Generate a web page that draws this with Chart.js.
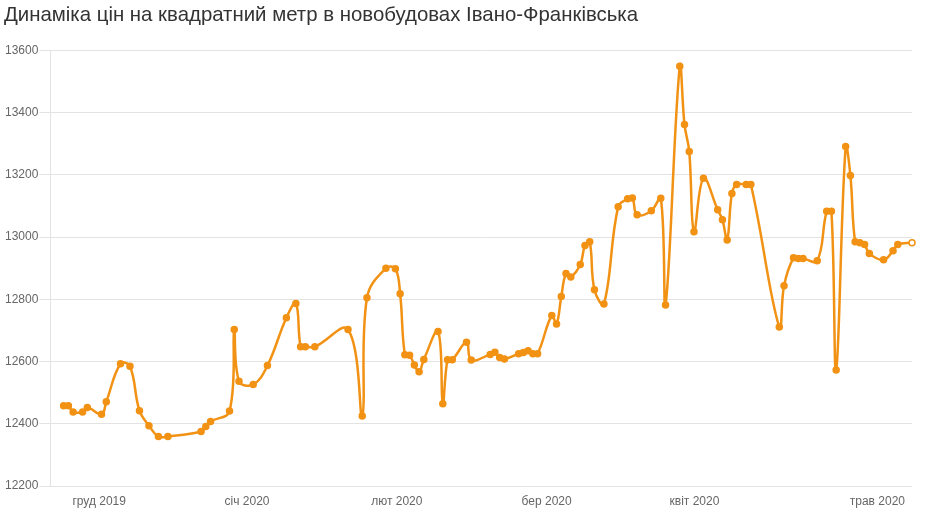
<!DOCTYPE html>
<html>
<head>
<meta charset="utf-8">
<script src="https://cdn.jsdelivr.net/npm/chart.js@4.4.0/dist/chart.umd.min.js"></script>
<style>
  html, body { margin: 0; padding: 0; background: #fff; }
  #wrap { width: 943px; height: 514px; }
</style>
</head>
<body>
<div id="wrap"><canvas id="c" width="943" height="514"></canvas></div>
<script>
// Day offsets (days since first observation)
const days = [0,1,2,4,5,8,9,12,14,16,18,20,22,29,30,31,35,36,37,40,43,47,49,50,51,53,60,63,64,68,70,71,72,73,74,75,76,79,80,81,82,85,86,90,91,92,93,96,97,98,99,100,103,104,105,106,107,109,110,111,112,114,117,119,120,121,124,126,127,130,131,132,133,135,138,139,140,141,142,144,145,151,152,154,155,156,159,161,162,163,165,166,167,168,169,170,173,175,176,179];
// Price per square metre
const prices = [12458,12458,12438,12438,12452,12431,12471,12593,12585,12442,12394,12359,12359,12375,12391,12407,12441,12703,12537,12526,12587,12741,12787,12648,12648,12648,12703,12425,12805,12900,12898,12818,12622,12620,12589,12567,12607,12697,12464,12606,12606,12662,12605,12623,12630,12613,12608,12625,12629,12635,12625,12625,12748,12721,12809,12883,12872,12912,12973,12985,12831,12785,13098,13123,13126,13072,13085,13125,12782,13549,13362,13275,13017,13189,13088,13056,12991,13140,13169,13169,13169,12711,12844,12934,12931,12931,12924,13083,13083,12573,13291,13198,12985,12982,12976,12947,12927,12956,12976,12982];
// X-axis month labels and their positions (in days)
const tickDays = [7.5, 38.7, 70.3, 101.9, 133.1, 171.7];
const tickLabels = ['груд 2019', 'січ 2020', 'лют 2020', 'бер 2020', 'квіт 2020', 'трав 2020'];
const yTicks = [12200, 12400, 12600, 12800, 13000, 13200, 13400, 13600];

const orange = '#f29214';
const pointsData = days.map((d, i) => ({ x: d, y: prices[i] }));
const pointBg = prices.map((_, i) => i === prices.length - 1 ? '#ffffff' : orange);

Chart.defaults.font.family = "'Liberation Sans', Arial, sans-serif";
Chart.defaults.color = '#666';

new Chart(document.getElementById('c'), {
  type: 'line',
  data: {
    datasets: [{
      data: pointsData,
      borderColor: orange,
      backgroundColor: orange,
      pointBackgroundColor: pointBg,
      pointBorderColor: orange,
      pointRadius: 3,
      pointBorderWidth: 1.5,
      borderWidth: 2.5,
      tension: 0.4,
      fill: false,
      clip: false
    }]
  },
  options: {
    responsive: false,
    animation: false,
    layout: { padding: { left: 4, right: 31, top: 0, bottom: 0 } },
    plugins: {
      legend: { display: false },
      tooltip: { enabled: false },
      title: {
        display: true,
        text: 'Динаміка цін на квадратний метр в новобудовах Івано-Франківська',
        align: 'start',
        color: '#333',
        font: { size: 20.4, weight: 'normal' },
        padding: { top: 3, bottom: 23 }
      }
    },
    scales: {
      x: {
        type: 'linear',
        min: -2.8,
        max: 179,
        grid: { display: false, drawTicks: false },
        border: { display: false },
        afterBuildTicks: (scale) => { scale.ticks = tickDays.map(v => ({ value: v })); },
        afterFit: (scale) => { scale.height = 28; },
        ticks: {
          autoSkip: false,
          maxRotation: 0,
          padding: 8,
          font: { size: 12 },
          color: '#666',
          callback: (v, i) => tickLabels[i]
        }
      },
      y: {
        min: 12200,
        max: 13600,
        afterBuildTicks: (scale) => { scale.ticks = yTicks.map(v => ({ value: v })); },
        grid: { color: '#e3e3e3', tickLength: 11, lineWidth: 1 },
        border: { display: true, color: '#e3e3e3' },
        ticks: {
          padding: 1,
          font: { size: 12 },
          color: '#666',
          callback: (v) => String(v)
        }
      }
    }
  }
});
</script>
</body>
</html>
